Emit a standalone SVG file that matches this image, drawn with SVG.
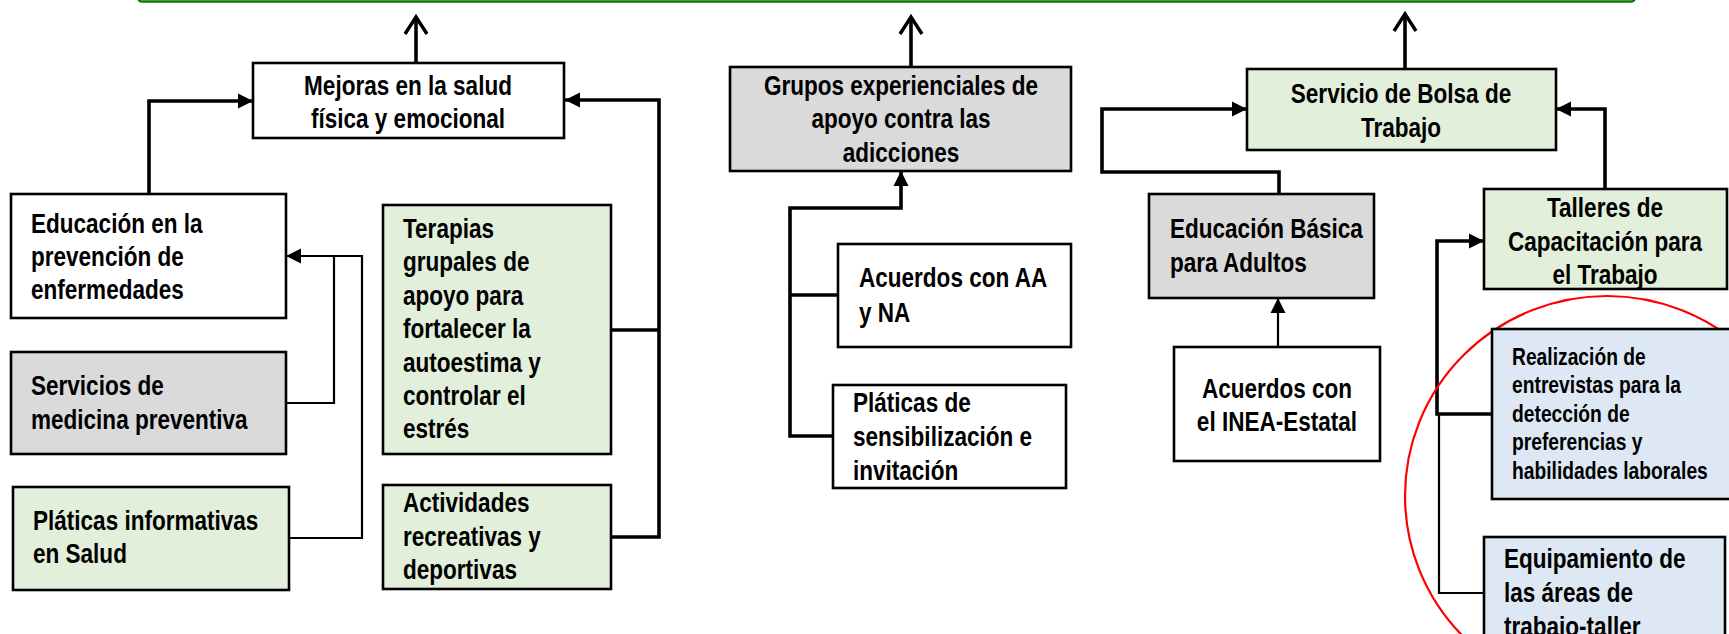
<svg xmlns="http://www.w3.org/2000/svg" width="1729" height="634" viewBox="0 0 1729 634">
<style>
  .box { stroke: #000; stroke-width: 2.6; }
  .w { fill: #ffffff; }
  .g { fill: #dadada; }
  .gr { fill: #e2efda; }
  .b { fill: #dde8f4; }
  text { font-family: "Liberation Sans", Arial, sans-serif; font-weight: bold; font-size: 27.5px; fill: #000; }
  .s { font-size: 23.5px; }
  .c { text-anchor: middle; }
  .thick { fill: none; stroke: #000; stroke-width: 3.6; }
  .thin { fill: none; stroke: #000; stroke-width: 2.2; }
</style>
<defs>
  <marker id="ah" markerUnits="userSpaceOnUse" markerWidth="16" markerHeight="15" refX="15" refY="7.5" orient="auto" overflow="visible">
    <path d="M0,0 L15,7.5 L0,15 z" fill="#000"/>
  </marker>
  <marker id="open" markerUnits="userSpaceOnUse" markerWidth="20" markerHeight="24" refX="17" refY="11" orient="auto" overflow="visible">
    <path d="M0,0 L17,11 L0,22" fill="none" stroke="#000" stroke-width="3.4" stroke-linejoin="miter"/>
  </marker>
</defs>

<rect x="138" y="-40" width="1497" height="41.5" rx="4" fill="none" stroke="#0b7a0b" stroke-width="2.4"/>

<g id="connectors">
  <path class="thick" d="M416,63 V17" marker-end="url(#open)"/>
  <path class="thick" d="M911,67 V17" marker-end="url(#open)"/>
  <path class="thick" d="M1405,69 V14" marker-end="url(#open)"/>

  <path class="thick" d="M149,194 V101 H253" marker-end="url(#ah)"/>
  <path class="thick" d="M611,330 H659"/>
  <path class="thick" d="M611,537 H659 V100 H565" marker-end="url(#ah)"/>
  <path class="thin" d="M289,538 H362 V256 H286" marker-end="url(#ah)"/>
  <path class="thin" d="M286,403 H334 V256"/>

  <path class="thick" d="M838,295 H790"/>
  <path class="thick" d="M833,436 H790 V208 H901 V171" marker-end="url(#ah)"/>

  <path class="thick" d="M1279,194 V172 H1102 V109 H1247" marker-end="url(#ah)"/>
  <path class="thick" d="M1605,189 V109 H1556" marker-end="url(#ah)"/>
  <path class="thin" d="M1278,347 V298" marker-end="url(#ah)"/>
  <path class="thick" d="M1492,414 H1437 V241 H1484" marker-end="url(#ah)"/>
  <path class="thin" d="M1484,593 H1439 V414"/>
</g>

<ellipse id="highlight" cx="1607" cy="496" rx="202" ry="200" fill="none" stroke="#ff0000" stroke-width="2.2"/>

<g id="n-mejoras">
  <rect class="box w" x="253" y="63" width="311" height="75"/>
  <text class="c" transform="translate(408,95) scale(0.82,1)">Mejoras en la salud</text>
  <text class="c" transform="translate(408,128) scale(0.82,1)">física y emocional</text>
</g>
<g id="n-educacion">
  <rect class="box w" x="11" y="194" width="275" height="124"/>
  <text transform="translate(31,233) scale(0.82,1)">Educación en la</text>
  <text transform="translate(31,266) scale(0.82,1)">prevención de</text>
  <text transform="translate(31,299) scale(0.82,1)">enfermedades</text>
</g>
<g id="n-servicios">
  <rect class="box g" x="11" y="352" width="275" height="102"/>
  <text transform="translate(31,395) scale(0.82,1)">Servicios de</text>
  <text transform="translate(31,429) scale(0.82,1)">medicina preventiva</text>
</g>
<g id="n-platicas-info">
  <rect class="box gr" x="13" y="487" width="276" height="103"/>
  <text transform="translate(33,530) scale(0.82,1)">Pláticas informativas</text>
  <text transform="translate(33,563) scale(0.82,1)">en Salud</text>
</g>
<g id="n-terapias">
  <rect class="box gr" x="383" y="205" width="228" height="249"/>
  <text transform="translate(403,238) scale(0.82,1)">Terapias</text>
  <text transform="translate(403,271.4) scale(0.82,1)">grupales de</text>
  <text transform="translate(403,304.8) scale(0.82,1)">apoyo para</text>
  <text transform="translate(403,338.2) scale(0.82,1)">fortalecer la</text>
  <text transform="translate(403,371.6) scale(0.82,1)">autoestima y</text>
  <text transform="translate(403,405) scale(0.82,1)">controlar el</text>
  <text transform="translate(403,438.4) scale(0.82,1)">estrés</text>
</g>
<g id="n-actividades">
  <rect class="box gr" x="383" y="485" width="228" height="104"/>
  <text transform="translate(403,512) scale(0.82,1)">Actividades</text>
  <text transform="translate(403,546) scale(0.82,1)">recreativas y</text>
  <text transform="translate(403,579) scale(0.82,1)">deportivas</text>
</g>

<g id="n-grupos">
  <rect class="box g" x="730" y="67" width="341" height="104"/>
  <text class="c" transform="translate(901,95) scale(0.82,1)">Grupos experienciales de</text>
  <text class="c" transform="translate(901,128) scale(0.82,1)">apoyo contra las</text>
  <text class="c" transform="translate(901,162) scale(0.82,1)">adicciones</text>
</g>
<g id="n-acuerdos-aa">
  <rect class="box w" x="838" y="244" width="233" height="103"/>
  <text transform="translate(859,287) scale(0.82,1)">Acuerdos con AA</text>
  <text transform="translate(859,322) scale(0.82,1)">y NA</text>
</g>
<g id="n-platicas-sens">
  <rect class="box w" x="833" y="385" width="233" height="103"/>
  <text transform="translate(853,412) scale(0.82,1)">Pláticas de</text>
  <text transform="translate(853,446) scale(0.82,1)">sensibilización e</text>
  <text transform="translate(853,480) scale(0.82,1)">invitación</text>
</g>

<g id="n-bolsa">
  <rect class="box gr" x="1247" y="69" width="309" height="81"/>
  <text class="c" transform="translate(1401,103) scale(0.82,1)">Servicio de Bolsa de</text>
  <text class="c" transform="translate(1401,137) scale(0.82,1)">Trabajo</text>
</g>
<g id="n-educ-basica">
  <rect class="box g" x="1149" y="194" width="225" height="104"/>
  <text transform="translate(1170,238) scale(0.82,1)">Educación Básica</text>
  <text transform="translate(1170,272) scale(0.82,1)">para Adultos</text>
</g>
<g id="n-inea">
  <rect class="box w" x="1174" y="347" width="206" height="114"/>
  <text class="c" transform="translate(1277,398) scale(0.82,1)">Acuerdos con</text>
  <text class="c" transform="translate(1277,431) scale(0.82,1)">el INEA-Estatal</text>
</g>
<g id="n-talleres">
  <rect class="box gr" x="1484" y="189" width="243" height="100"/>
  <text class="c" transform="translate(1605,217) scale(0.82,1)">Talleres de</text>
  <text class="c" transform="translate(1605,251) scale(0.82,1)">Capacitación para</text>
  <text class="c" transform="translate(1605,284) scale(0.82,1)">el Trabajo</text>
</g>
<g id="n-realizacion">
  <rect class="box b" x="1492" y="329" width="250" height="170"/>
  <text class="s" transform="translate(1512,365) scale(0.82,1)">Realización de</text>
  <text class="s" transform="translate(1512,393) scale(0.82,1)">entrevistas para la</text>
  <text class="s" transform="translate(1512,422) scale(0.82,1)">detección de</text>
  <text class="s" transform="translate(1512,450) scale(0.82,1)">preferencias y</text>
  <text class="s" transform="translate(1512,479) scale(0.82,1)">habilidades laborales</text>
</g>
<g id="n-equipamiento">
  <rect class="box b" x="1484" y="537" width="241" height="120"/>
  <text transform="translate(1504,568) scale(0.82,1)">Equipamiento de</text>
  <text transform="translate(1504,602) scale(0.82,1)">las áreas de</text>
  <text transform="translate(1504,636) scale(0.82,1)">trabajo-taller</text>
</g>
</svg>
